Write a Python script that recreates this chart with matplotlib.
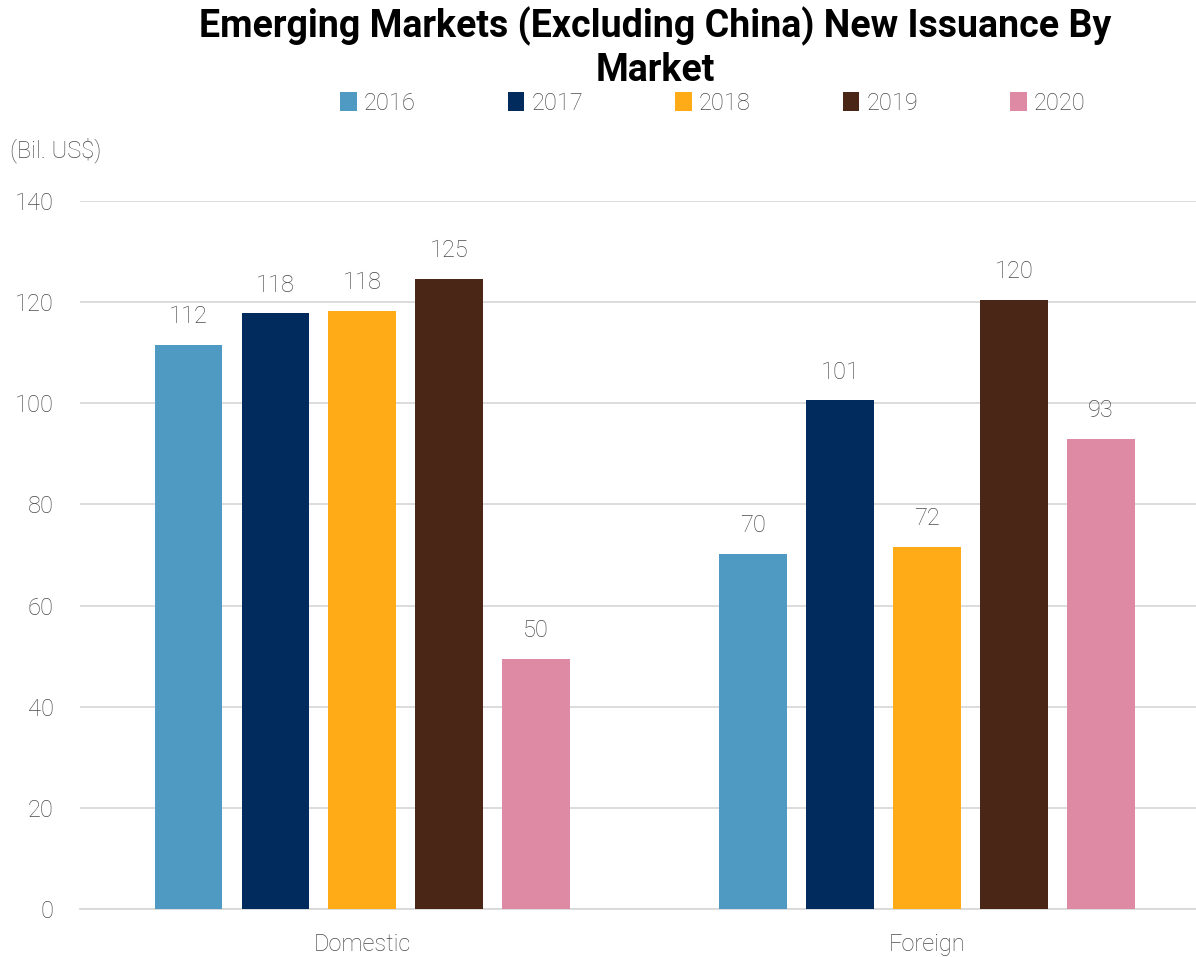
import numpy as np
import matplotlib.pyplot as plt

plt.rcParams['font.family'] = ['Roboto', 'DejaVu Sans']

markets = ['Domestic', 'Foreign']
years = ['2016', '2017', '2018', '2019', '2020']
values = {
    '2016': [111.6, 70.2],
    '2017': [117.8, 100.6],
    '2018': [118.3, 71.6],
    '2019': [124.6, 120.4],
    '2020': [49.5, 93.0],
}
colors = ['#4E9AC2', '#002B5C', '#FFAB18', '#4A2617', '#DE8AA4']
grey = '#4A4A4A'

fig = plt.figure(figsize=(11.96, 9.57), dpi=100)
ax = fig.add_axes([80 / 1196, 1 - 909 / 957, 1 - 80 / 1196, (909 - 201) / 957])

x = np.arange(len(markets))
width = 0.12
step = 0.154
for i, (yr, c) in enumerate(zip(years, colors)):
    pos = x + (i - 2) * step
    bars = ax.bar(pos, values[yr], width, color=c, label=yr, zorder=3)
    for b, v in zip(bars, values[yr]):
        ax.text(b.get_x() + b.get_width() / 2, v + 3.3, f'{v:.0f}', ha='center', va='bottom',
                fontsize=17, color=grey, fontweight='light')

ax.set_xlim(-0.5, (1196 - 362) / 565)
ax.set_ylim(0, 140)
ax.set_yticks(range(0, 141, 20))
ax.set_xticks(x)
ax.set_xticklabels(markets)
ax.grid(axis='y', color='#D9D9D9', lw=1.3, zorder=0)
for s in ['top', 'right', 'left']:
    ax.spines[s].set_visible(False)
ax.spines['bottom'].set_color('#D9D9D9')
ax.spines['bottom'].set_linewidth(1.3)
ax.tick_params(axis='both', length=0, labelsize=17, labelcolor=grey)
ax.tick_params(axis='y', pad=19)
ax.tick_params(axis='x', pad=17)
for t in ax.get_xticklabels() + ax.get_yticklabels():
    t.set_fontweight('light')

fig.text(655 / 1196, 1 - 48 / 957, 'Emerging Markets (Excluding China) New Issuance By\nMarket',
         ha='center', va='center', fontsize=27, fontweight='bold', linespacing=1.2)
fig.text(10 / 1196, 1 - 150 / 957, '(Bil. US$)', ha='left', va='center', fontsize=17,
         color=grey, fontweight='light')

leg = fig.legend(loc='center', bbox_to_anchor=(713 / 1196, 1 - 103 / 957), ncol=5, frameon=False,
                 fontsize=17, handlelength=0.7, handleheight=0.9, handletextpad=0.3,
                 columnspacing=3.9)
for t in leg.get_texts():
    t.set_color(grey)
    t.set_fontweight('light')

fig.savefig('out.png', dpi=100)
